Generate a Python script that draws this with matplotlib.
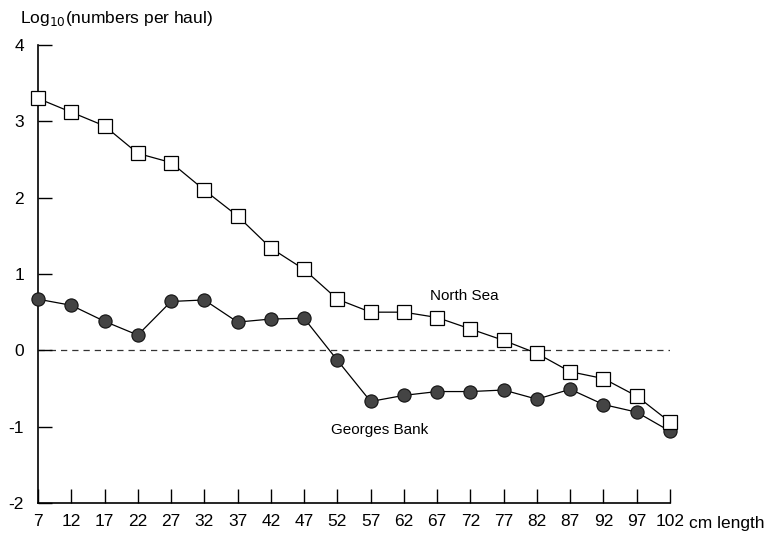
import matplotlib
matplotlib.use("Agg")
import matplotlib.pyplot as plt

plt.rcParams['font.family'] = ['Liberation Sans', 'DejaVu Sans']

lengths = [7, 12, 17, 22, 27, 32, 37, 42, 47, 52, 57, 62, 67, 72, 77, 82, 87, 92, 97, 102]
north_sea = [3.30, 3.12, 2.94, 2.58, 2.46, 2.10, 1.76, 1.34, 1.06, 0.67,
             0.50, 0.50, 0.43, 0.28, 0.13, -0.04, -0.28, -0.37, -0.60, -0.94]
georges_bank = [0.67, 0.59, 0.38, 0.20, 0.64, 0.66, 0.37, 0.41, 0.42, -0.13,
                -0.67, -0.59, -0.54, -0.54, -0.52, -0.64, -0.51, -0.71, -0.81, -1.06]
yticks = [-2, -1, 0, 1, 2, 3, 4]

fig = plt.figure(figsize=(7.74, 5.39), dpi=100)
ax = fig.add_axes([38/774, 1-503/539, (670-38)/774, (503-45)/539])

ax.axhline(0, color='#333333', lw=0.9, ls=(0, (5, 4)), zorder=1)

ax.plot(lengths, georges_bank, color='black', lw=0.9, marker='o', ms=9.5,
        mfc='#444444', mec='#111111', mew=0.8, clip_on=False, zorder=3)
ax.plot(lengths, north_sea, color='black', lw=0.9, marker='s', ms=10.5,
        mfc='white', mec='black', mew=0.9, clip_on=False, zorder=4)

ax.set_xlim(7, 102)
ax.set_ylim(-2, 4)
ax.set_xticks(lengths)
ax.set_xticklabels([str(v) for v in lengths])
ax.set_yticks(yticks)
ax.set_yticklabels([str(v) for v in yticks])
for s in ['top', 'right']:
    ax.spines[s].set_visible(False)
for s in ['left', 'bottom']:
    ax.spines[s].set_linewidth(1.2)
ax.tick_params(axis='both', direction='in', length=10, width=1.0, labelsize=12.5)
ax.tick_params(axis='x', pad=8)
ax.tick_params(axis='y', pad=10)

ax.text(65.9, 0.71, 'North Sea', fontsize=11, ha='left', va='center')
ax.text(51, -1.05, 'Georges Bank', fontsize=11, ha='left', va='center')

ax.annotate('cm length', xy=(102, 0), xycoords=('data', 'axes fraction'),
            xytext=(14, -14.5), textcoords='offset points', fontsize=12.5,
            ha='left', va='center')

fig.text(20/774, 1-18/539, 'Log$_{10}$(numbers per haul)', fontsize=12.5,
         ha='left', va='center')

fig.savefig('out.png', dpi=100)
